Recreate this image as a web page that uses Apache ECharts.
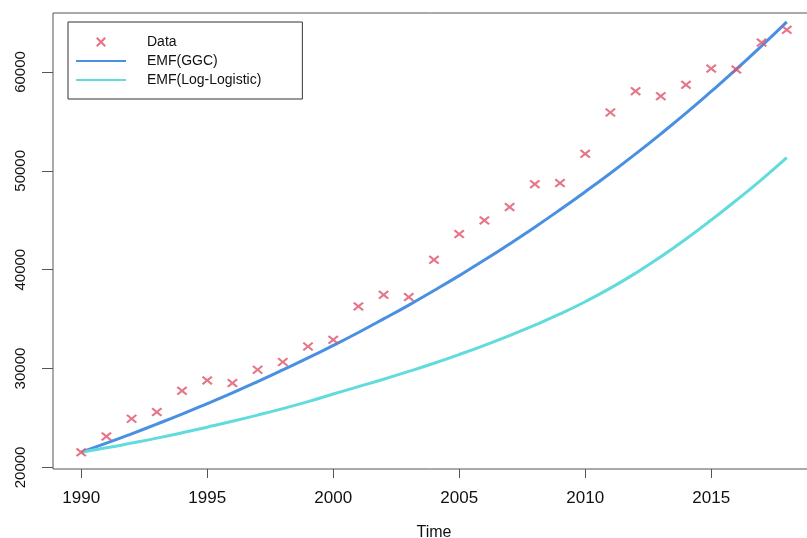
<!DOCTYPE html>
<html>
<head>
<meta charset="utf-8">
<script src="https://cdn.jsdelivr.net/npm/echarts@6/dist/echarts.min.js"></script>
<style>
  html, body { margin: 0; padding: 0; background: #fff; }
  #main { width: 807px; height: 538px; }
</style>
</head>
<body>
<div id="main"></div>
<script>
// data
const years = [1990, 1991, 1992, 1993, 1994, 1995, 1996, 1997, 1998, 1999,
  2000, 2001, 2002, 2003, 2004, 2005, 2006, 2007, 2008, 2009,
  2010, 2011, 2012, 2013, 2014, 2015, 2016, 2017, 2018];
const observed = [21520, 23130, 24920, 25600, 27750, 28800, 28530, 29880, 30660, 32230,
  32910, 36280, 37460, 37230, 41000, 43600, 44980, 46330, 48650, 48760,
  51720, 55900, 58060, 57550, 58700, 60340, 60240, 62970, 64260];
const emfGGC = [21540, 22450, 23400, 24380, 25390, 26450, 27540, 28680, 29860, 31070,
  32340, 33650, 35020, 36420, 37890, 39400, 40970, 42610, 44300, 46060,
  47880, 49760, 51710, 53740, 55840, 58030, 60280, 62630, 65070];
const emfLogLogistic = [21540, 21980, 22460, 22960, 23500, 24070, 24660, 25290, 25950, 26650,
  27420, 28170, 28920, 29710, 30540, 31420, 32350, 33340, 34390, 35520,
  36760, 38130, 39650, 41310, 43110, 45020, 47020, 49120, 51340];
const xTicks = [1990, 1995, 2000, 2005, 2010, 2015];
const yTicks = [20000, 30000, 40000, 50000, 60000];
const seriesNames = ['Data', 'EMF(GGC)', 'EMF(Log-Logistic)'];

const FONT = 'Liberation Sans, Arial, sans-serif';
// little x made of two bars
const crossPath = 'path://M0,1.5L1.5,0L5,3.5L8.5,0L10,1.5L6.5,5L10,8.5L8.5,10L5,6.5L1.5,10L0,8.5L3.5,5Z';

const chart = echarts.init(document.getElementById('main'));

const pair = arr => years.map((y, i) => [y, arr[i]]);

const option = {
  backgroundColor: '#ffffff',
  animation: false,
  grid: {
    left: 53,
    top: 13,
    right: -8,
    bottom: 69,
    outerBoundsMode: 'none',
    containLabel: false,
    show: true,
    borderColor: '#555',
    borderWidth: 1
  },
  legend: {
    data: [
      { name: seriesNames[0] },
      { name: seriesNames[1], itemStyle: { opacity: 0 } },
      { name: seriesNames[2], itemStyle: { opacity: 0 } }
    ],
    orient: 'vertical',
    left: 68,
    top: 22,
    padding: [13, 41, 12, 7],
    itemWidth: 50,
    itemHeight: 10,
    itemGap: 5,
    borderColor: '#333',
    borderWidth: 1,
    backgroundColor: '#fff',
    textStyle: {
      fontFamily: FONT,
      fontSize: 14,
      color: '#111',
      padding: [0, 0, 0, 16]
    }
  },
  xAxis: {
    type: 'value',
    min: 1988.88,
    max: 2019.12,
    name: 'Time',
    nameLocation: 'middle',
    nameGap: 56,
    nameTextStyle: { fontFamily: FONT, fontSize: 16, color: '#111' },
    axisLine: { show: false },
    splitLine: { show: false },
    axisTick: {
      show: true,
      length: 9,
      customValues: xTicks,
      lineStyle: { color: '#555' }
    },
    axisLabel: {
      customValues: xTicks,
      formatter: v => String(v),
      fontFamily: FONT,
      fontSize: 17,
      color: '#111',
      margin: 21
    }
  },
  yAxis: {
    type: 'value',
    min: 19838,
    max: 65966,
    axisLine: { show: false },
    splitLine: { show: false },
    axisTick: {
      show: true,
      length: 11,
      customValues: yTicks,
      lineStyle: { color: '#555' }
    },
    axisLabel: {
      customValues: yTicks,
      formatter: v => String(v),
      rotate: 90,
      fontFamily: FONT,
      fontSize: 15,
      color: '#111',
      margin: 25
    }
  },
  series: [
    {
      name: seriesNames[0],
      type: 'scatter',
      data: pair(observed),
      symbol: crossPath,
      symbolSize: [11, 9],
      itemStyle: { color: '#DF536B' },
      z: 3
    },
    {
      name: seriesNames[1],
      type: 'line',
      data: pair(emfGGC),
      smooth: true,
      symbol: 'none',
      itemStyle: { color: '#4A90E2' },
      lineStyle: { color: '#4A90E2', width: 3 },
      z: 2
    },
    {
      name: seriesNames[2],
      type: 'line',
      data: pair(emfLogLogistic),
      smooth: true,
      symbol: 'none',
      itemStyle: { color: '#62DBDD' },
      lineStyle: { color: '#62DBDD', width: 3 },
      z: 2
    }
  ]
};

chart.setOption(option);
</script>
</body>
</html>
